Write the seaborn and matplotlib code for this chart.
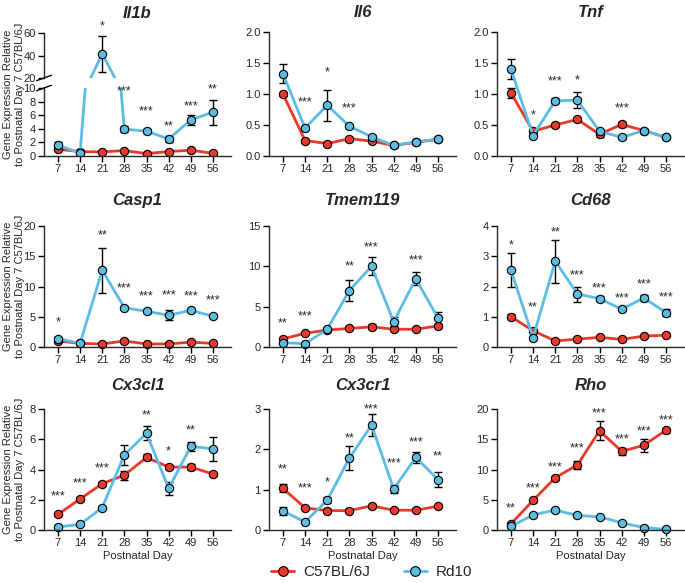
import matplotlib
matplotlib.use("Agg")
import pandas as pd
import matplotlib.pyplot as plt
from matplotlib.lines import Line2D
import seaborn as sns

days = [7, 14, 21, 28, 35, 42, 49, 56]
strains = ["C57BL/6J", "Rd10"]
palette = {"C57BL/6J": "#E8392B", "Rd10": "#5BBCE4"}

il1b_wt = [1.0, 0.65, 0.6, 0.8, 0.35, 0.65, 0.85, 0.4]
il1b_wt_err = [0.15, 0.1, 0.1, 0.15, 0.1, 0.1, 0.1, 0.1]
il1b_rd = [1.6, 0.4, 41.5, 3.95, 3.65, 2.5, 5.3, 6.45]
il1b_rd_err = [0.4, 0.1, 16.0, 0.4, 0.3, 0.5, 0.8, 1.85]
il1b_stars = ["", "", "*", "***", "***", "**", "***", "**"]
il1b_star_y = [0, 0, 66, 9.5, 6.6, 4.3, 7.3, 9.8]

il6_wt = [1.0, 0.25, 0.2, 0.28, 0.24, 0.17, 0.22, 0.27]
il6_wt_err = [0.03, 0.02, 0.02, 0.03, 0.02, 0.02, 0.02, 0.02]
il6_rd = [1.33, 0.45, 0.82, 0.48, 0.31, 0.17, 0.23, 0.27]
il6_rd_err = [0.15, 0.03, 0.25, 0.03, 0.03, 0.02, 0.03, 0.02]
il6_stars = ["", "***", "*", "***", "", "", "", ""]
il6_star_y = [0, 0.87, 1.34, 0.76, 0, 0, 0, 0]

tnf_wt = [1.02, 0.4, 0.5, 0.59, 0.35, 0.51, 0.41, 0.3]
tnf_wt_err = [0.08, 0.02, 0.03, 0.03, 0.04, 0.04, 0.02, 0.02]
tnf_rd = [1.4, 0.33, 0.89, 0.9, 0.4, 0.3, 0.41, 0.3]
tnf_rd_err = [0.16, 0.03, 0.04, 0.13, 0.03, 0.02, 0.03, 0.02]
tnf_stars = ["", "*", "***", "*", "", "***", "", ""]
tnf_star_y = [0, 0.66, 1.2, 1.22, 0, 0.76, 0, 0]

casp1_wt = [1.0, 0.6, 0.5, 1.0, 0.5, 0.5, 0.8, 0.6]
casp1_wt_err = [0.2, 0.1, 0.1, 0.3, 0.1, 0.1, 0.1, 0.1]
casp1_rd = [1.4, 0.6, 12.7, 6.5, 5.9, 5.25, 6.05, 5.1]
casp1_rd_err = [0.3, 0.1, 3.7, 0.3, 0.3, 0.8, 0.3, 0.2]
casp1_stars = ["*", "", "**", "***", "***", "***", "***", "***"]
casp1_star_y = [4.1, 0, 18.5, 9.6, 8.3, 8.5, 8.3, 7.7]

tmem_wt = [1.0, 1.7, 2.1, 2.3, 2.5, 2.2, 2.2, 2.6]
tmem_wt_err = [0.1, 0.1, 0.1, 0.1, 0.3, 0.1, 0.1, 0.2]
tmem_rd = [0.55, 0.4, 2.2, 7.0, 10.0, 3.15, 8.45, 3.6]
tmem_rd_err = [0.1, 0.1, 0.2, 1.3, 1.1, 0.6, 0.8, 0.8]
tmem_stars = ["**", "***", "", "**", "***", "", "***", ""]
tmem_star_y = [2.9, 3.8, 0, 10.0, 12.3, 0, 10.7, 0]

cd68_wt = [1.0, 0.54, 0.2, 0.26, 0.32, 0.25, 0.36, 0.39]
cd68_wt_err = [0.08, 0.06, 0.02, 0.03, 0.03, 0.03, 0.03, 0.04]
cd68_rd = [2.54, 0.31, 2.84, 1.75, 1.6, 1.25, 1.62, 1.14]
cd68_rd_err = [0.57, 0.05, 0.71, 0.25, 0.08, 0.05, 0.1, 0.13]
cd68_stars = ["*", "**", "**", "***", "***", "***", "***", "***"]
cd68_star_y = [3.35, 1.3, 3.8, 2.35, 1.93, 1.62, 2.07, 1.64]

cx3cl1_wt = [1.03, 2.05, 3.06, 3.63, 4.8, 4.16, 4.16, 3.7]
cx3cl1_wt_err = [0.1, 0.1, 0.1, 0.3, 0.2, 0.15, 0.22, 0.1]
cx3cl1_rd = [0.2, 0.37, 1.48, 4.96, 6.4, 2.75, 5.53, 5.37]
cx3cl1_rd_err = [0.1, 0.1, 0.1, 0.65, 0.45, 0.45, 0.3, 0.8]
cx3cl1_stars = ["***", "***", "***", "", "**", "*", "**", ""]
cx3cl1_star_y = [2.2, 3.1, 4.1, 0, 7.6, 5.2, 6.6, 0]

cx3cr1_wt = [1.03, 0.55, 0.48, 0.48, 0.6, 0.49, 0.49, 0.59]
cx3cr1_wt_err = [0.1, 0.03, 0.03, 0.03, 0.05, 0.03, 0.03, 0.03]
cx3cr1_rd = [0.47, 0.2, 0.74, 1.78, 2.6, 1.02, 1.8, 1.25]
cx3cr1_rd_err = [0.1, 0.03, 0.08, 0.3, 0.27, 0.1, 0.14, 0.18]
cx3cr1_stars = ["**", "***", "*", "**", "***", "***", "***", "**"]
cx3cr1_star_y = [1.49, 1.02, 1.17, 2.28, 2.98, 1.64, 2.17, 1.83]

rho_wt = [1.0, 4.9, 8.64, 10.75, 16.4, 13.0, 14.0, 16.5]
rho_wt_err = [0.2, 0.3, 0.3, 0.6, 1.6, 0.6, 1.1, 0.4]
rho_rd = [0.6, 2.5, 3.3, 2.4, 2.17, 1.2, 0.4, 0.1]
rho_rd_err = [0.2, 0.2, 0.3, 0.2, 0.2, 0.2, 0.1, 0.05]
rho_stars = ["**", "***", "***", "***", "***", "***", "***", "***"]
rho_star_y = [3.6, 6.8, 10.4, 13.4, 19.3, 14.9, 16.3, 18.1]

sns.set_style("ticks")
plt.rcParams["font.family"] = ["Liberation Sans", "DejaVu Sans"]
plt.rcParams["axes.linewidth"] = 1.0

W, H = 685, 583
fig = plt.figure(figsize=(W / 100, H / 100), dpi=100)

YLABEL = "Gene Expression Relative\nto Postnatal Day 7 C57BL/6J"
XLIM = (2.6, 61.7)
col_left = [44, 269, 497]
col_w = 187
rows = [(32, 156), (226, 347), (409, 530)]


def px_axes(left, top, width, height):
    return fig.add_axes([left / W, 1 - (top + height) / H, width / W, height / H])


def style_axes(ax):
    sns.despine(ax=ax)
    ax.set_xlim(*XLIM)
    ax.tick_params(direction="out", length=4, width=1, labelsize=8, pad=2, color="black")
    ax.set_xlabel("")
    ax.set_ylabel("")


def draw_gene(ax, wt, wt_err, rd, rd_err, clip=False):
    df = pd.DataFrame({
        "day": days * 2,
        "value": wt + rd,
        "strain": [strains[0]] * len(days) + [strains[1]] * len(days),
    })
    for vals, errs in [(wt, wt_err), (rd, rd_err)]:
        ax.errorbar(days, vals, yerr=errs, fmt="none", ecolor="black",
                    elinewidth=1, capsize=3, capthick=1, zorder=1)
    sns.lineplot(data=df, x="day", y="value", hue="strain", hue_order=strains,
                 palette=palette, marker="o", markersize=6, markeredgecolor="black",
                 markeredgewidth=0.8, linewidth=2, legend=False, ax=ax, zorder=2)
    if not clip:
        for ln in ax.lines:
            ln.set_clip_on(False)
        for c in ax.collections:
            c.set_clip_on(False)


def add_stars(ax, stars, star_y):
    for d, s, y in zip(days, stars, star_y):
        if s:
            ax.text(d, y, s, ha="center", va="center", fontsize=9, clip_on=False)


def set_title(ax, title, pad):
    ax.set_title(title, fontsize=12, fontweight="bold", fontstyle="italic", pad=pad)


def add_ylabel(row):
    top, bottom = rows[row]
    fig.text(14 / W, 1 - (top + bottom) / 2 / H, YLABEL, rotation=90,
             ha="center", va="center", fontsize=8, linespacing=1.2)


# ---- Il1b with a broken y axis ----
ax_up = px_axes(col_left[0], 33, col_w, 45)
ax_lo = px_axes(col_left[0], 88, col_w, 68)
for ax in (ax_up, ax_lo):
    draw_gene(ax, il1b_wt, il1b_wt_err, il1b_rd, il1b_rd_err, clip=True)
    style_axes(ax)
ax_up.set_ylim(20, 60)
ax_up.set_yticks([20, 40, 60])
ax_up.spines["bottom"].set_visible(False)
ax_up.tick_params(axis="x", bottom=False, labelbottom=False)
ax_lo.set_ylim(0, 10)
ax_lo.set_yticks([0, 2, 4, 6, 8, 10])
ax_lo.set_xticks(days)
for d, s, y in zip(days, il1b_stars, il1b_star_y):
    if s:
        target = ax_up if y > 20 else ax_lo
        target.text(d, y, s, ha="center", va="center", fontsize=9, clip_on=False)
# break marks
kw = dict(color="black", lw=1, clip_on=False)
ax_up.plot([-0.04, 0.04], [-0.06, 0.06], transform=ax_up.transAxes, **kw)
ax_lo.plot([-0.04, 0.04], [0.96, 1.04], transform=ax_lo.transAxes, **kw)
set_title(ax_up, "Il1b", 11)
add_ylabel(0)

panels = [
    (0, 1, "Il6", il6_wt, il6_wt_err, il6_rd, il6_rd_err, il6_stars, il6_star_y,
     (0, 2), [0.0, 0.5, 1.0, 1.5, 2.0]),
    (0, 2, "Tnf", tnf_wt, tnf_wt_err, tnf_rd, tnf_rd_err, tnf_stars, tnf_star_y,
     (0, 2), [0.0, 0.5, 1.0, 1.5, 2.0]),
    (1, 0, "Casp1", casp1_wt, casp1_wt_err, casp1_rd, casp1_rd_err, casp1_stars, casp1_star_y,
     (0, 20), [0, 5, 10, 15, 20]),
    (1, 1, "Tmem119", tmem_wt, tmem_wt_err, tmem_rd, tmem_rd_err, tmem_stars, tmem_star_y,
     (0, 15), [0, 5, 10, 15]),
    (1, 2, "Cd68", cd68_wt, cd68_wt_err, cd68_rd, cd68_rd_err, cd68_stars, cd68_star_y,
     (0, 4), [0, 1, 2, 3, 4]),
    (2, 0, "Cx3cl1", cx3cl1_wt, cx3cl1_wt_err, cx3cl1_rd, cx3cl1_rd_err, cx3cl1_stars, cx3cl1_star_y,
     (0, 8), [0, 2, 4, 6, 8]),
    (2, 1, "Cx3cr1", cx3cr1_wt, cx3cr1_wt_err, cx3cr1_rd, cx3cr1_rd_err, cx3cr1_stars, cx3cr1_star_y,
     (0, 3), [0, 1, 2, 3]),
    (2, 2, "Rho", rho_wt, rho_wt_err, rho_rd, rho_rd_err, rho_stars, rho_star_y,
     (0, 20), [0, 5, 10, 15, 20]),
]

title_pads = [11, 15, 14]
for r, c, name, wt, wte, rd, rde, stars, sy, ylim, yticks in panels:
    top, bottom = rows[r]
    ax = px_axes(col_left[c], top, col_w, bottom - top)
    draw_gene(ax, wt, wte, rd, rde)
    style_axes(ax)
    ax.set_ylim(*ylim)
    ax.set_yticks(yticks)
    if isinstance(yticks[1], float):
        ax.set_yticklabels([f"{t:.1f}" for t in yticks])
    ax.set_xticks(days)
    add_stars(ax, stars, sy)
    set_title(ax, name, title_pads[r])
    if r == 2:
        ax.set_xlabel("Postnatal Day", fontsize=8, labelpad=2)

add_ylabel(1)
add_ylabel(2)

handles = [Line2D([], [], color=palette[s], lw=2, marker="o", markersize=7,
                  markeredgecolor="black", markeredgewidth=0.8) for s in strains]
fig.legend(handles, strains, loc="center", bbox_to_anchor=(0.543, 1 - 572 / H),
           ncol=2, frameon=False, fontsize=11, handlelength=1.5, columnspacing=2.2,
           handletextpad=0.6)

fig.savefig("out.png", dpi=100)
